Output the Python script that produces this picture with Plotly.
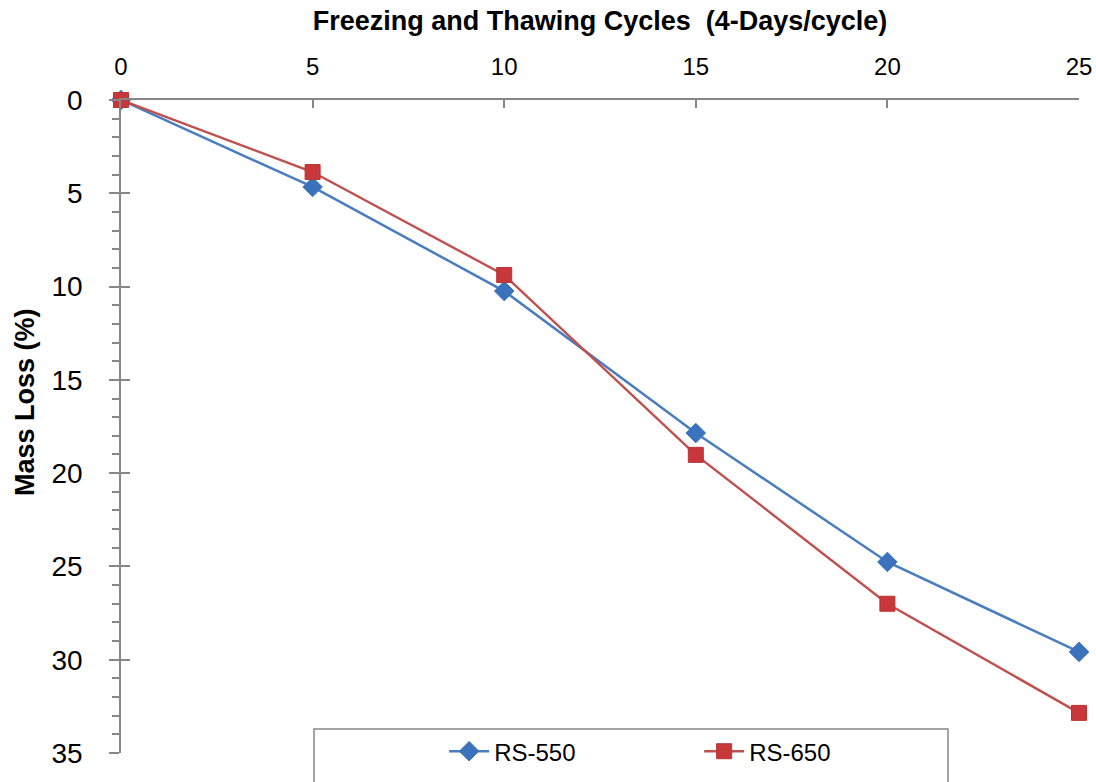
import plotly.graph_objects as go

cycles = [0, 5, 10, 15, 20, 25]
rs550 = [0, 4.66, 10.24, 17.85, 24.76, 29.58]
rs650 = [0, 3.86, 9.38, 19.02, 27.0, 32.85]
series_names = ["RS-550", "RS-650"]
x_ticks = [0, 5, 10, 15, 20, 25]
y_ticks = [0, 5, 10, 15, 20, 25, 30, 35]

FONT = "Liberation Sans Narrow, Arial Narrow, Liberation Sans, sans-serif"
AX = "#868686"

fig = go.Figure()
fig.add_trace(go.Scatter(
    x=cycles, y=rs550, name=series_names[0], mode="lines+markers",
    line=dict(color="#4A7DC0", width=2.5),
    marker=dict(symbol="diamond", size=15, color="#3A72BC",
                line=dict(color="#3A72BC", width=1)),
    cliponaxis=False,
))
fig.add_trace(go.Scatter(
    x=cycles, y=rs650, name=series_names[1], mode="lines+markers",
    line=dict(color="#C0504D", width=2.4),
    marker=dict(symbol="square", size=15, color="#C8373A",
                line=dict(color="#B83535", width=1)),
    cliponaxis=False,
))

fig.update_layout(
    width=1096, height=782,
    margin=dict(l=121, r=17, t=100, b=29, autoexpand=False),
    paper_bgcolor="white", plot_bgcolor="white",
    font=dict(family=FONT, color="black"),
    showlegend=True,
    legend=dict(orientation="h", x=(0.33 * 958 - 11 + 18) / 958, xanchor="left",
                y=0.032 + 3 / 653, yanchor="top",
                font=dict(size=24, family=FONT), bgcolor="rgba(0,0,0,0)",
                entrywidth=200, itemwidth=40),
    xaxis=dict(
        side="top", range=[0, 25], tickvals=x_ticks, automargin=False,
        ticks="inside", ticklen=8, tickcolor=AX, tickwidth=1.5,
        showline=True, linecolor=AX, linewidth=1.5, showgrid=False, zeroline=False,
        tickfont=dict(size=24), ticklabelstandoff=14,
        title=dict(text="<b>Freezing and Thawing Cycles  (4-Days/cycle)</b>",
                   font=dict(size=27), standoff=14),
    ),
    yaxis=dict(
        range=[35, 0], tickvals=y_ticks, automargin=False,
        ticks="outside", ticklen=10, tickcolor=AX, tickwidth=1.5,
        minor=dict(dtick=1, ticks="outside", ticklen=7, tickcolor=AX, tickwidth=1.5),
        showline=True, linecolor=AX, linewidth=1.5, showgrid=False, zeroline=False,
        tickfont=dict(size=28), ticklabelstandoff=21,
    ),
    yaxis2=dict(
        range=[35, 0], overlaying="y", side="left", tickvals=y_ticks, automargin=False,
        ticks="inside", ticklen=9, tickcolor=AX, tickwidth=1.5,
        showticklabels=False, showline=False, showgrid=False, zeroline=False,
    ),
    annotations=[dict(
        text="<b>Mass Loss (%)</b>", textangle=-90, showarrow=False,
        xref="paper", yref="paper", x=(25 - 121) / 958, y=(753 - 402) / 653,
        xanchor="center", yanchor="middle", font=dict(size=27, family=FONT),
    )],
)
fig.add_trace(go.Scatter(x=[None], y=[None], yaxis="y2", showlegend=False, hoverinfo="skip"))

fig.add_shape(type="rect", xref="paper", yref="paper",
              x0=(314 - 121) / 958, x1=(948 - 121) / 958,
              y0=-0.2, y1=(753 - 729) / 653,
              line=dict(color=AX, width=1.5), fillcolor="white", layer="below")

fig.write_html(
    "out.html",
    config={"displayModeBar": False},
    post_script="document.body.style.margin='0';"
                "document.documentElement.style.overflow='hidden';",
)
